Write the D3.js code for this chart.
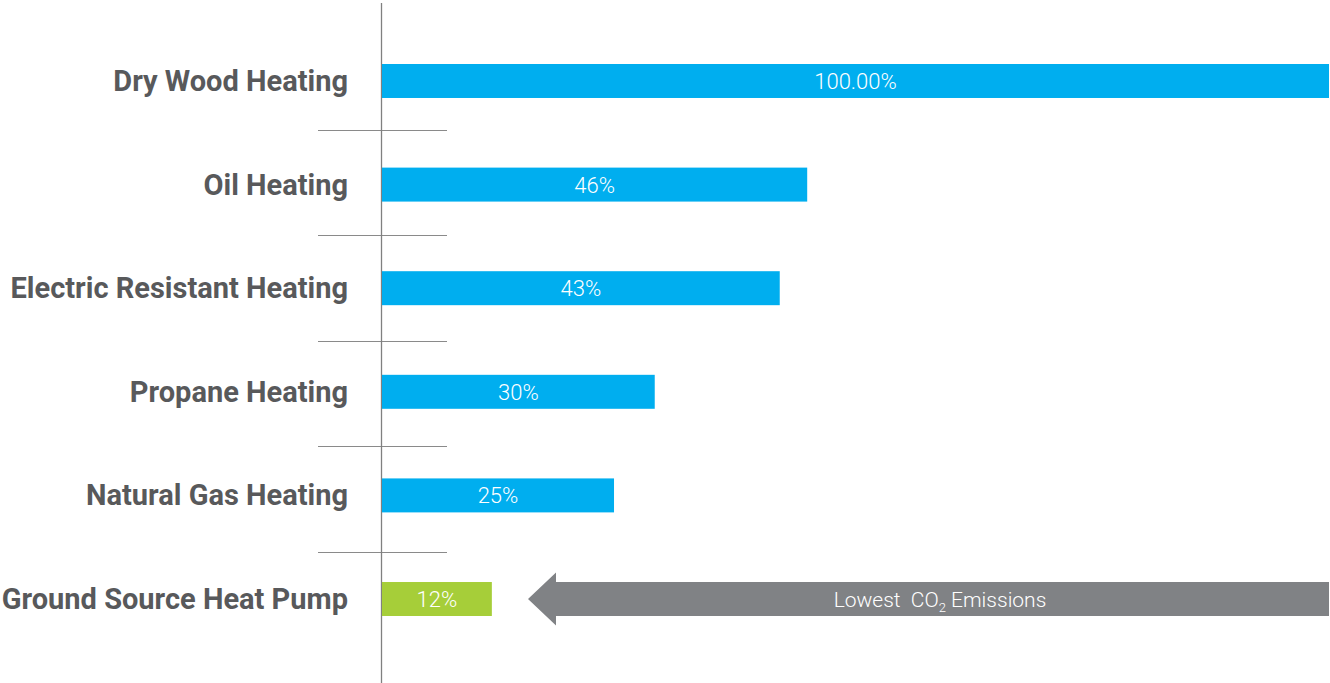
<!DOCTYPE html>
<html>
<head>
<meta charset="utf-8">
<script src="https://cdn.jsdelivr.net/npm/d3@7"></script>
<style>
  body { margin: 0; background: #fff; }
  svg { display: block; }
</style>
</head>
<body>
<script>
// chart data
var categories = ["Dry Wood Heating", "Oil Heating", "Electric Resistant Heating",
                  "Propane Heating", "Natural Gas Heating", "Ground Source Heat Pump"];
var values = [100, 44.9, 42, 28.8, 24.5, 11.6];   // bar lengths as drawn
var valueLabels = ["100.00%", "46%", "43%", "30%", "25%", "12%"];
var highlight = "Ground Source Heat Pump";
var arrowText = ["Lowest  CO", "2", " Emissions"];

var w = 1330, h = 683;
var x0 = 382;
var font = "Roboto, 'Liberation Sans', sans-serif";

var svg = d3.select("body").append("svg")
    .attr("width", w)
    .attr("height", h);

var x = d3.scaleLinear()
    .domain([0, 100])
    .range([x0, 1329]);

var y = d3.scaleBand()
    .domain(categories)
    .range([12.2, 667.8])
    .paddingInner(0.672)
    .paddingOuter(0.5);

// separators sit between rows
var ySep = d3.scalePoint()
    .domain(categories.slice(1))
    .range([129.5, 551.5]);

svg.selectAll("line.sep")
    .data(categories.slice(1))
    .enter()
    .append("line")
    .attr("class", "sep")
    .attr("x1", 318).attr("x2", 447)
    .attr("y1", function(d){ return Math.round(ySep(d)) + 0.5; })
    .attr("y2", function(d){ return Math.round(ySep(d)) + 0.5; })
    .attr("stroke", "#8a8a8a")
    .attr("stroke-width", 1);

// vertical axis line
svg.append("line")
    .attr("x1", x0 - 0.5).attr("x2", x0 - 0.5)
    .attr("y1", 3).attr("y2", h)
    .attr("stroke", "#808080")
    .attr("stroke-width", 1.3);

// bars
svg.selectAll("rect.bar")
    .data(categories)
    .enter()
    .append("rect")
    .attr("class", "bar")
    .attr("x", x(0))
    .attr("y", function(d){ return y(d); })
    .attr("width", function(d, i){ return x(values[i]) - x(0); })
    .attr("height", y.bandwidth())
    .attr("fill", function(d){ return d == highlight ? "#a6ce39" : "#00aeef"; });

// value labels
svg.selectAll("text.val")
    .data(categories)
    .enter()
    .append("text")
    .attr("class", "val")
    .attr("x", function(d, i){ return (x(0) + x(values[i])) / 2; })
    .attr("y", function(d){ return y(d) + y.bandwidth() / 2 + 8; })
    .attr("text-anchor", "middle")
    .attr("fill", "#fff")
    .style("font-family", font)
    .style("font-weight", "300")
    .style("font-size", "22px")
    .text(function(d, i){ return valueLabels[i]; });

// category labels
svg.selectAll("text.cat")
    .data(categories)
    .enter()
    .append("text")
    .attr("class", "cat")
    .attr("x", 348)
    .attr("y", function(d){ return y(d) + y.bandwidth() / 2 + 10; })
    .attr("text-anchor", "end")
    .attr("fill", "#58595b")
    .style("font-family", font)
    .style("font-weight", "bold")
    .style("font-size", "29px")
    .text(function(d){ return d; });

// arrow pointing at the lowest emitter
var ay = y(highlight) + y.bandwidth() / 2;
var tip = 528, headX = 556, shaft = y.bandwidth() / 2, head = 26.5;
svg.append("path")
    .attr("d", "M" + tip + "," + ay +
               "L" + headX + "," + (ay - head) +
               "L" + headX + "," + (ay - shaft) +
               "L" + x(100) + "," + (ay - shaft) +
               "L" + x(100) + "," + (ay + shaft) +
               "L" + headX + "," + (ay + shaft) +
               "L" + headX + "," + (ay + head) + "Z")
    .attr("fill", "#808285");

var at = svg.append("text")
    .attr("x", 940)
    .attr("y", ay + 8)
    .attr("text-anchor", "middle")
    .attr("fill", "#fff")
    .style("font-family", font)
    .style("font-weight", "300")
    .style("font-size", "21px")
    .style("white-space", "pre");
at.append("tspan").text(arrowText[0]);
at.append("tspan").attr("dy", 5).style("font-size", "13px").text(arrowText[1]);
at.append("tspan").attr("dy", -5).text(arrowText[2]);
</script>
</body>
</html>
